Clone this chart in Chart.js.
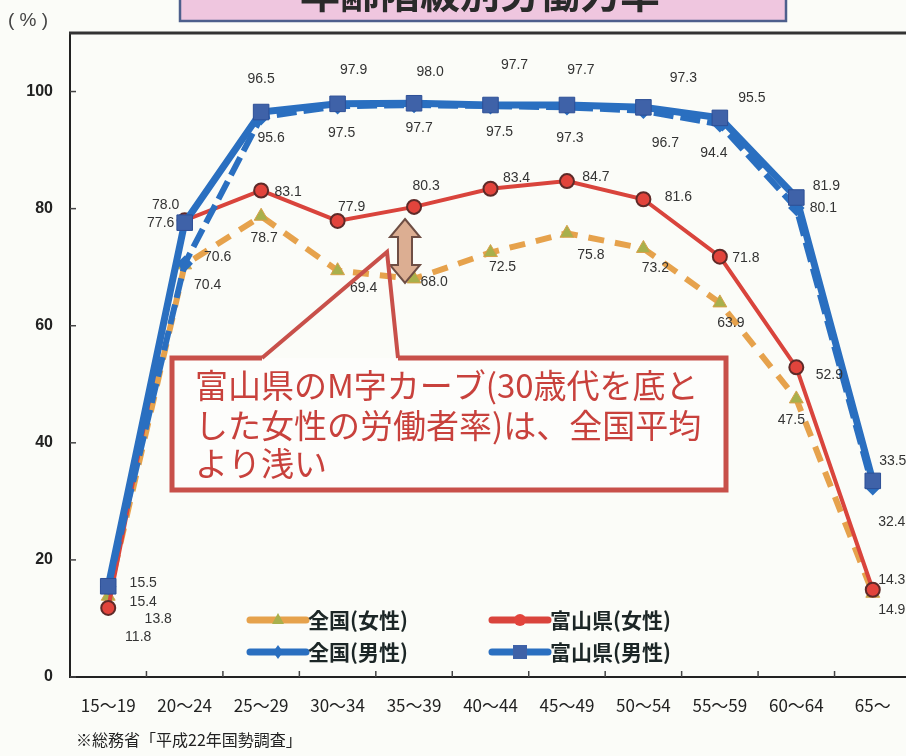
<!DOCTYPE html>
<html>
<head>
<meta charset="utf-8">
<script src="https://cdn.jsdelivr.net/npm/chart.js@4"></script>
<style>
  html, body { margin: 0; padding: 0; background: #fbfcf8; overflow: hidden; }
  canvas { display: block; }
</style>
</head>
<body>
<canvas id="chart" width="923" height="756"></canvas>
<script>
// Data (平成22年国勢調査, 年齢階級別労働力率 %)
const ageGroups = ["15～19", "20～24", "25～29", "30～34", "35～39", "40～44", "45～49", "50～54", "55～59", "60～64", "65～"];
const natFemale = [13.8, 70.4, 78.7, 69.4, 68.0, 72.5, 75.8, 73.2, 63.9, 47.5, 14.3];
const toyamaFemale = [11.8, 78.0, 83.1, 77.9, 80.3, 83.4, 84.7, 81.6, 71.8, 52.9, 14.9];
const natMale = [15.4, 70.6, 95.6, 97.5, 97.7, 97.5, 97.3, 96.7, 94.4, 80.1, 32.4];
const toyamaMale = [15.5, 77.6, 96.5, 97.9, 98.0, 97.7, 97.7, 97.3, 95.5, 81.9, 33.5];
const yTicks = [0, 20, 40, 60, 80, 100];

// Where each value label sits relative to its point (dx, dy in px)
const natFemaleLabelPos = [[50, 23], [23, 20], [3, 22], [26, 17], [20, 3], [12, 15], [24, 22], [12, 20], [11, 20], [-5, 21], [19, -13]];
const toyamaFemaleLabelPos = [[30, 29], [-19, -15], [27, 2], [14, -14], [12, -21], [26, -11], [29, -4], [35, -2], [26, 1], [33, 8], [19, 20]];
const natMaleLabelPos = [[35, 15], [33, -7], [10, 21], [4, 27], [5, 23], [9, 26], [3, 31], [22, 32], [-6, 29], [27, 0], [19, 35]];
const toyamaMaleLabelPos = [[35, -3], [-24, 0], [0, -33], [16, -34], [16, -31], [24, -40], [14, -35], [40, -29], [32, -20], [30, -11], [20, -20]];

const BLUE = "#2a6fc0";
const RED = "#d9443c";
const ORANGE = "#e6a24c";

// Page background, title, unit, source, frame
const bgPlugin = {
  id: "bg",
  beforeDraw(chart) {
    const c = chart.ctx;
    c.save();
    c.fillStyle = "#fbfcf8";
    c.fillRect(0, 0, chart.width, chart.height);

    // title box (cut off at the top)
    c.fillStyle = "#efc6df";
    c.fillRect(180, -6, 606, 27);
    c.strokeStyle = "#4d5f8c";
    c.lineWidth = 2.5;
    c.strokeRect(180, -6, 606, 27);
    c.fillStyle = "#2a2a2a";
    c.font = "bold 40px 'Noto Sans CJK JP'";
    c.textAlign = "center";
    c.textBaseline = "alphabetic";
    c.fillText("年齢階級別労働力率", 480, 8);

    // unit label
    c.fillStyle = "#444";
    c.font = "19px 'Liberation Sans'";
    c.textAlign = "left";
    c.textBaseline = "middle";
    c.fillText("( % )", 8, 21);

    // source note
    c.fillStyle = "#222";
    c.font = "16px 'Noto Sans CJK JP'";
    c.fillText("※総務省「平成22年国勢調査」", 76, 740);
    c.restore();
  },
  beforeDatasetsDraw(chart) {
    const c = chart.ctx;
    const a = chart.chartArea;
    const ys = chart.scales.y;
    c.save();
    // top frame line
    c.strokeStyle = "#333";
    c.lineWidth = 3;
    c.beginPath();
    c.moveTo(a.left - 1, a.top);
    c.lineTo(a.right, a.top);
    c.stroke();
    // inner tick marks
    c.lineWidth = 1.5;
    c.strokeStyle = "#444";
    yTicks.forEach(v => {
      const y = ys.getPixelForValue(v);
      c.beginPath();
      c.moveTo(a.left, y);
      c.lineTo(a.left + 6, y);
      c.stroke();
    });
    const step = (a.right - a.left) / ageGroups.length;
    for (let i = 1; i < ageGroups.length; i++) {
      const x = a.left + step * i;
      c.beginPath();
      c.moveTo(x, a.bottom);
      c.lineTo(x, a.bottom - 6);
      c.stroke();
    }
    c.restore();
  }
};

// Value labels next to points
const labelPlugin = {
  id: "valueLabels",
  afterDatasetsDraw(chart) {
    const c = chart.ctx;
    const posList = [toyamaMaleLabelPos, natMaleLabelPos, toyamaFemaleLabelPos, natFemaleLabelPos];
    c.save();
    c.font = "14px 'Liberation Sans'";
    c.fillStyle = "#333";
    c.textAlign = "center";
    c.textBaseline = "middle";
    chart.data.datasets.forEach((ds, di) => {
      const meta = chart.getDatasetMeta(di);
      meta.data.forEach((pt, i) => {
        const [dx, dy] = posList[di][i];
        c.fillText(ds.data[i].toFixed(1), pt.x + dx, pt.y + dy);
      });
    });
    c.restore();
  }
};

// Arrow + callout box + legend
const notePlugin = {
  id: "notes",
  afterDraw(chart) {
    const c = chart.ctx;
    c.save();

    // double-headed arrow between the two female lines at 35～39
    const ax = 405, top = 219, bot = 283, hw = 15, hh = 18, sw = 7;
    c.beginPath();
    c.moveTo(ax, top);
    c.lineTo(ax + hw, top + hh);
    c.lineTo(ax + sw, top + hh);
    c.lineTo(ax + sw, bot - hh);
    c.lineTo(ax + hw, bot - hh);
    c.lineTo(ax, bot);
    c.lineTo(ax - hw, bot - hh);
    c.lineTo(ax - sw, bot - hh);
    c.lineTo(ax - sw, top + hh);
    c.lineTo(ax - hw, top + hh);
    c.closePath();
    c.fillStyle = "#dcae92";
    c.fill();
    c.strokeStyle = "#6e4e44";
    c.lineWidth = 2;
    c.stroke();

    // callout box
    c.fillStyle = "#fdfdfb";
    c.fillRect(172, 358, 554, 132);
    c.strokeStyle = "#c8504a";
    c.lineWidth = 5;
    c.lineJoin = "miter";
    c.beginPath();
    c.moveTo(262, 358);
    c.lineTo(172, 358);
    c.lineTo(172, 490);
    c.lineTo(726, 490);
    c.lineTo(726, 358);
    c.lineTo(398, 358);
    c.stroke();
    c.lineWidth = 4;
    c.beginPath();
    c.moveTo(262, 358);
    c.lineTo(387, 252);
    c.lineTo(398, 358);
    c.stroke();

    c.fillStyle = "#c8413c";
    c.font = "33px 'Noto Sans CJK JP'";
    c.textAlign = "left";
    c.textBaseline = "middle";
    c.fillText("富山県のM字カーブ(30歳代を底と", 195, 385);
    c.fillText("した女性の労働者率)は、全国平均", 195, 425);
    c.fillText("より浅い", 195, 463);

    // legend
    const items = [
      { text: "全国(女性)", x: 250, y: 620, color: ORANGE, mark: "tri" },
      { text: "富山県(女性)", x: 492, y: 620, color: RED, mark: "circle" },
      { text: "全国(男性)", x: 250, y: 652, color: BLUE, mark: "diamond" },
      { text: "富山県(男性)", x: 492, y: 652, color: BLUE, mark: "rect" }
    ];
    items.forEach(it => {
      c.strokeStyle = it.color;
      c.lineWidth = 7;
      c.lineCap = "round";
      c.beginPath();
      c.moveTo(it.x, it.y);
      c.lineTo(it.x + 56, it.y);
      c.stroke();
      const mx = it.x + 28, my = it.y;
      c.beginPath();
      if (it.mark === "tri") {
        c.moveTo(mx, my - 7); c.lineTo(mx + 6, my + 4); c.lineTo(mx - 6, my + 4); c.closePath();
        c.fillStyle = "#a8b04c";
      } else if (it.mark === "circle") {
        c.arc(mx, my, 6, 0, Math.PI * 2);
        c.fillStyle = "#e2443c";
      } else if (it.mark === "diamond") {
        c.moveTo(mx, my - 7); c.lineTo(mx + 5, my); c.lineTo(mx, my + 7); c.lineTo(mx - 5, my); c.closePath();
        c.fillStyle = BLUE;
      } else {
        c.rect(mx - 7, my - 7, 14, 14);
        c.fillStyle = "#3f62a8";
      }
      c.fill();
      c.fillStyle = "#1c2626";
      c.font = "bold 21px 'Noto Sans CJK JP'";
      c.textAlign = "left";
      c.textBaseline = "middle";
      c.fillText(it.text, it.x + 58, it.y);
    });
    c.restore();
  }
};

const ctx = document.getElementById("chart").getContext("2d");
new Chart(ctx, {
  type: "line",
  data: {
    labels: ageGroups,
    datasets: [
      {
        label: "富山県(男性)", data: toyamaMale, order: 0,
        borderColor: BLUE, borderWidth: 7, pointStyle: "rect", pointRadius: 11,
        pointBackgroundColor: "#3f62a8", pointBorderColor: "#2d4f96", pointBorderWidth: 1
      },
      {
        label: "全国(男性)", data: natMale, order: 1,
        borderColor: BLUE, borderWidth: 6, borderDash: [20, 7],
        pointStyle: "rectRot", pointRadius: 4, pointBackgroundColor: BLUE, pointBorderColor: BLUE
      },
      {
        label: "富山県(女性)", data: toyamaFemale, order: 2,
        borderColor: RED, borderWidth: 4, pointStyle: "circle", pointRadius: 7,
        pointBackgroundColor: "#e2443c", pointBorderColor: "#5e2a28", pointBorderWidth: 2
      },
      {
        label: "全国(女性)", data: natFemale, order: 3,
        borderColor: ORANGE, borderWidth: 6, borderDash: [16, 11],
        pointStyle: "triangle", pointRadius: 8,
        pointBackgroundColor: "#a8b04c", pointBorderColor: "#d8a048", pointBorderWidth: 1
      }
    ]
  },
  options: {
    responsive: false,
    animation: false,
    layout: { padding: { top: 33, left: 0, right: 0, bottom: 0 } },
    elements: { line: { tension: 0, fill: false } },
    plugins: { legend: { display: false }, tooltip: { enabled: false } },
    scales: {
      x: {
        offset: true,
        grid: { display: false, drawTicks: false },
        border: { color: "#222", width: 2 },
        ticks: { color: "#222", font: { family: "'Noto Sans CJK JP'", size: 17 }, padding: 18, maxRotation: 0, autoSkip: false },
        afterFit(scale) { scale.height = 79; }
      },
      y: {
        min: 0, max: 110,
        grid: { display: false, drawTicks: false },
        border: { color: "#222", width: 2 },
        ticks: { stepSize: 20, color: "#222", padding: 17, font: { family: "'Liberation Sans'", size: 16, weight: "bold" } },
        afterBuildTicks(scale) { scale.ticks = yTicks.map(v => ({ value: v })); },
        afterFit(scale) { scale.width = 70; }
      }
    }
  },
  plugins: [bgPlugin, labelPlugin, notePlugin]
});
</script>
</body>
</html>
